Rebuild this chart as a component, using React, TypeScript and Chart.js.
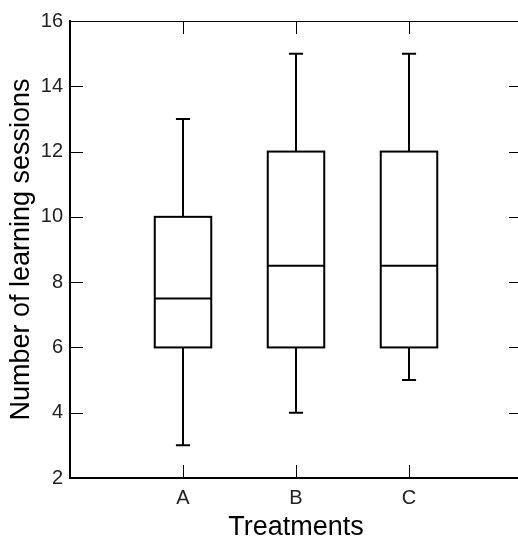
import { useEffect, useRef } from 'react';
import { Chart, registerables } from 'chart.js';

Chart.register(...registerables);

// Box-plot summary per treatment
const treatments = ['A', 'B', 'C'];
const whiskerLow = [3, 4, 5];
const quartile1 = [6, 6, 6];
const medians = [7.5, 8.5, 8.5];
const quartile3 = [10, 12, 12];
const whiskerHigh = [13, 15, 15];
const yTickValues = [2, 4, 6, 8, 10, 12, 14, 16];

const FONT = "'Liberation Sans', Arial, Helvetica, sans-serif";
const TICK_LEN = 13;

// Whiskers, caps, median lines and box outlines drawn over the floating bars
const whiskerPlugin = {
  id: 'whiskers',
  afterDatasetsDraw(chart: any) {
    const { ctx, scales } = chart;
    const x = scales.x;
    const y = scales.y;
    ctx.save();
    ctx.strokeStyle = '#000';
    ctx.lineWidth = 2;
    ctx.lineCap = 'butt';
    treatments.forEach((_, i) => {
      const c = x.getPixelForValue(i + 1);
      const boxHalf = (x.getPixelForValue(i + 1.25) - x.getPixelForValue(i + 0.75)) / 2;
      const capHalf = (x.getPixelForValue(i + 1.0625) - x.getPixelForValue(i + 0.9375)) / 2;
      const yLo = y.getPixelForValue(whiskerLow[i]);
      const yQ1 = y.getPixelForValue(quartile1[i]);
      const yMed = y.getPixelForValue(medians[i]);
      const yQ3 = y.getPixelForValue(quartile3[i]);
      const yHi = y.getPixelForValue(whiskerHigh[i]);
      ctx.beginPath();
      // upper whisker + cap
      ctx.moveTo(c, yQ3);
      ctx.lineTo(c, yHi);
      ctx.moveTo(c - capHalf, yHi);
      ctx.lineTo(c + capHalf, yHi);
      // lower whisker + cap
      ctx.moveTo(c, yQ1);
      ctx.lineTo(c, yLo);
      ctx.moveTo(c - capHalf, yLo);
      ctx.lineTo(c + capHalf, yLo);
      // median
      ctx.moveTo(c - boxHalf, yMed);
      ctx.lineTo(c + boxHalf, yMed);
      ctx.stroke();
      // box outline
      ctx.strokeRect(c - boxHalf, yQ3, boxHalf * 2, yQ1 - yQ3);
    });
    ctx.restore();
  },
};

// Closed frame with inward tick marks on all four sides
const framePlugin = {
  id: 'frame',
  afterDraw(chart: any) {
    const { ctx, chartArea, scales } = chart;
    const { left, right, top, bottom } = chartArea;
    const x = scales.x;
    const y = scales.y;
    ctx.save();
    ctx.strokeStyle = '#000';

    // thin top and right edges
    ctx.lineWidth = 1;
    ctx.beginPath();
    ctx.moveTo(left, Math.round(top) + 0.5);
    ctx.lineTo(right, Math.round(top) + 0.5);
    ctx.moveTo(Math.round(right) + 0.5, top);
    ctx.lineTo(Math.round(right) + 0.5, bottom);
    ctx.stroke();

    // tick marks at each treatment and each y tick value
    ctx.beginPath();
    treatments.forEach((_, i) => {
      const px = Math.round(x.getPixelForValue(i + 1)) + 0.5;
      ctx.moveTo(px, bottom);
      ctx.lineTo(px, bottom - TICK_LEN);
      ctx.moveTo(px, top);
      ctx.lineTo(px, top + TICK_LEN);
    });
    yTickValues.forEach((v) => {
      const py = Math.round(y.getPixelForValue(v)) + 0.5;
      ctx.moveTo(left, py);
      ctx.lineTo(left + TICK_LEN, py);
      ctx.moveTo(right, py);
      ctx.lineTo(right - TICK_LEN, py);
    });
    ctx.stroke();

    // heavier left and bottom axes
    ctx.lineWidth = 2;
    ctx.beginPath();
    ctx.moveTo(left, top - 1);
    ctx.lineTo(left, bottom + 1);
    ctx.moveTo(left - 1, bottom);
    ctx.lineTo(right, bottom);
    ctx.stroke();
    ctx.restore();
  },
};

export default function App() {
  const canvasRef = useRef<HTMLCanvasElement | null>(null);

  useEffect(() => {
    const canvas = canvasRef.current;
    if (!canvas) return;
    const chart = new Chart(canvas, {
      type: 'bar',
      data: {
        datasets: [
          {
            label: 'Interquartile range',
            data: treatments.map((_, i) => ({ x: i + 1, y: [quartile1[i], quartile3[i]] })) as any,
            backgroundColor: '#ffffff',
            borderWidth: 0,
            barPercentage: 0.5,
            categoryPercentage: 1,
          },
        ],
      },
      options: {
        responsive: false,
        animation: false,
        devicePixelRatio: 1,
        layout: { padding: { top: 21, right: 8, left: 0, bottom: 0 } },
        plugins: {
          legend: { display: false },
          tooltip: { enabled: false },
        },
        scales: {
          x: {
            type: 'linear',
            min: 0,
            max: 4,
            offset: false,
            grid: { display: false, drawTicks: false, offset: false },
            border: { display: false },
            afterBuildTicks: (scale: any) => {
              scale.ticks = treatments.map((_, i) => ({ value: i + 1 }));
            },
            afterFit: (scale: any) => {
              scale.height = 62;
            },
            ticks: {
              padding: 8,
              color: '#222',
              font: { family: FONT, size: 20 },
              callback: (v: any) => treatments[Math.round(Number(v)) - 1] ?? '',
            },
            title: {
              display: true,
              text: 'Treatments',
              color: '#000',
              font: { family: FONT, size: 27, lineHeight: 1 },
              padding: { top: 0, bottom: -1 },
            },
          },
          y: {
            type: 'linear',
            min: 2,
            max: 16,
            grid: { display: false, drawTicks: false },
            border: { display: false },
            afterBuildTicks: (scale: any) => {
              scale.ticks = yTickValues.map((v) => ({ value: v }));
            },
            afterFit: (scale: any) => {
              scale.width = 70;
            },
            ticks: {
              padding: 7,
              color: '#222',
              font: { family: FONT, size: 20 },
            },
            title: {
              display: true,
              text: 'Number of learning sessions',
              color: '#000',
              font: { family: FONT, size: 27, lineHeight: 1 },
              padding: { top: 8, bottom: 0 },
            },
          },
        },
      },
      plugins: [whiskerPlugin, framePlugin],
    });
    return () => chart.destroy();
  }, []);

  return (
    <div
      style={{
        position: 'fixed',
        left: 0,
        top: 0,
        width: 518,
        height: 540,
        overflow: 'hidden',
        background: '#fff',
      }}
    >
      <canvas ref={canvasRef} width={530} height={540} style={{ display: 'block' }} />
    </div>
  );
}
